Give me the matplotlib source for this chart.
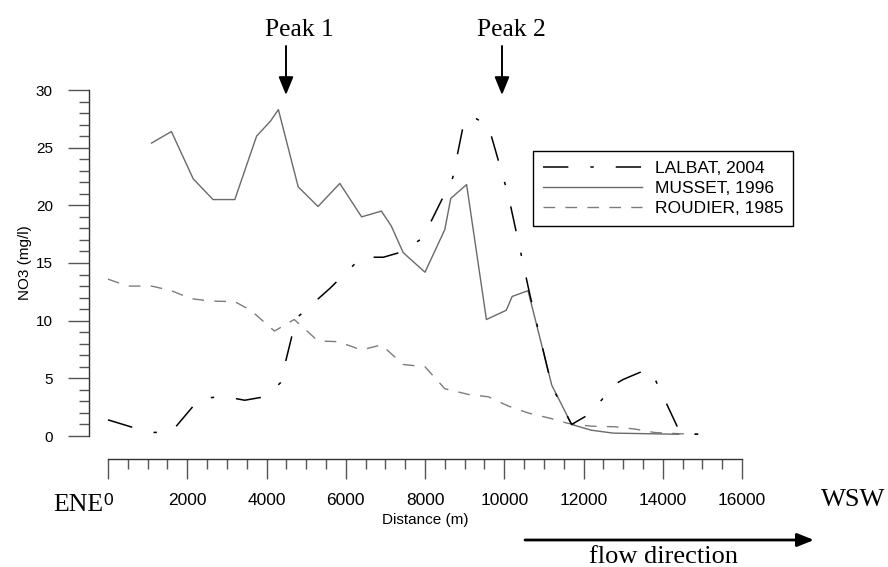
import matplotlib.pyplot as plt
from matplotlib.ticker import MultipleLocator

plt.rcParams['font.family'] = ['Liberation Sans', 'DejaVu Sans']

# NO3 profiles along the flow path
lalbat_x = [0, 1050, 1600, 2300, 2900, 3450, 3950, 4350, 4750, 5600, 6400, 6950, 7450,
            7950, 8700, 9000, 9300, 9600, 10100, 10650, 11200, 11700, 12200, 12750,
            13000, 13550, 13700, 14450, 14950, 15000, 15100]
lalbat_y = [1.4, 0.3, 0.35, 3.2, 3.45, 3.1, 3.4, 4.6, 10.2, 12.8, 15.5, 15.5, 16.0,
            17.2, 22.4, 27.5, 27.5, 26.9, 20.9, 12.2, 4.3, 1.0, 2.0, 4.4,
            4.9, 5.7, 5.7, 0.2, 0.15, 0.0, 0.0]

musset_x = [1100, 1600, 2150, 2650, 3200, 3750, 4100, 4300, 4800, 5300, 5850, 6400,
            6900, 7150, 7450, 8000, 8500, 8650, 9050, 9550, 10050, 10200, 10600,
            11200, 11700, 12200, 12750, 14400]
musset_y = [25.4, 26.4, 22.3, 20.5, 20.5, 26.0, 27.3, 28.3, 21.6, 19.9, 21.9, 19.0,
            19.5, 18.2, 15.9, 14.2, 17.9, 20.6, 21.8, 10.1, 10.9, 12.1, 12.6,
            4.4, 1.0, 0.5, 0.25, 0.15]

roudier_x = [0, 500, 1100, 1600, 2100, 2600, 3200, 3600, 4200, 4700, 5300, 5800, 6400,
             6900, 7450, 8000, 8500, 9100, 9600, 10100, 10600, 11200, 11600, 12200,
             12800, 13300, 13800, 14400, 14900]
roudier_y = [13.6, 13.0, 13.0, 12.6, 11.9, 11.7, 11.65, 10.9, 9.1, 10.1, 8.24, 8.18,
             7.46, 7.9, 6.2, 6.0, 4.1, 3.6, 3.4, 2.6, 2.0, 1.5, 1.1, 0.85,
             0.8, 0.6, 0.3, 0.2, 0.15]

W, H = 888, 567


def fp(x, y):
    # pixel position (from top-left) -> figure fraction
    return x / W, 1 - y / H


fig = plt.figure(figsize=(8.88, 5.67), dpi=100)
ax = fig.add_axes([108 / W, 1 - 436 / H, 634 / W, 346 / H])

ax.plot(roudier_x, roudier_y, color='#7c7c7c', lw=1.0, dashes=(8.4, 7.4),
        label='ROUDIER, 1985', clip_on=False)
ax.plot(musset_x, musset_y, color='#6a6a6a', lw=1.0, label='MUSSET, 1996', clip_on=False)
ax.plot(lalbat_x, lalbat_y, color='black', lw=1.1, dashes=(16.6, 14.4, 2.2, 14.4),
        label='LALBAT, 2004', clip_on=False)

ax.set_xlim(0, 16000)
ax.set_ylim(0, 30)

for s in ['top', 'right']:
    ax.spines[s].set_visible(False)
ax.spines['left'].set_position(('outward', 13.7))
ax.spines['bottom'].set_position(('outward', 16.6))
for s in ['left', 'bottom']:
    ax.spines[s].set_color('#333333')
    ax.spines[s].set_linewidth(1.0)

ax.xaxis.set_major_locator(MultipleLocator(2000))
ax.xaxis.set_minor_locator(MultipleLocator(500))
ax.yaxis.set_major_locator(MultipleLocator(5))
ax.yaxis.set_minor_locator(MultipleLocator(1))

ax.tick_params(axis='y', which='major', direction='out', length=15, width=1.0,
               color='#555555', labelsize=11, pad=11)
ax.tick_params(axis='y', which='minor', direction='out', length=7.2, width=1.0,
               color='#555555')
ax.tick_params(axis='x', which='major', direction='out', length=14.4, width=1.0,
               color='#555555', labelsize=12.5, pad=10)
ax.tick_params(axis='x', which='minor', direction='out', length=7, width=1.0,
               color='#555555')

ax.set_ylabel('NO3 (mg/l)', fontsize=11)
ax.yaxis.set_label_coords(-0.12, 0.5)
ax.set_xlabel('Distance (m)', fontsize=11)
ax.xaxis.set_label_coords(0.5, -0.222)

leg = ax.legend(handles=ax.lines[::-1], loc='upper left',
                bbox_to_anchor=fp(533, 151), bbox_transform=fig.transFigure,
                borderaxespad=0, fontsize=12.5, handlelength=5.7, handletextpad=0.75,
                labelspacing=0.3, borderpad=0.55, fancybox=False, framealpha=1)
leg.get_frame().set_edgecolor('black')
leg.get_frame().set_linewidth(1.0)

serif = ['Liberation Serif', 'DejaVu Serif']
fig.text(*fp(78, 505), 'ENE', family=serif, fontsize=18.5, ha='center', va='center')
fig.text(*fp(853, 500), 'WSW', family=serif, fontsize=19, ha='center', va='center')
fig.text(*fp(299, 30), 'Peak 1', family=serif, fontsize=18.4, ha='center', va='center')
fig.text(*fp(511, 30), 'Peak 2', family=serif, fontsize=18.4, ha='center', va='center')
fig.text(*fp(663, 557), 'flow direction', family=serif, fontsize=19,
         ha='center', va='center')

arrow = dict(arrowstyle='-|>,head_length=1.1,head_width=0.45', color='black', lw=1.4,
             shrinkA=0, shrinkB=0)
for x in [286, 502]:
    ax.annotate('', xy=fp(x, 95), xytext=fp(x, 46), xycoords='figure fraction',
                textcoords='figure fraction', arrowprops=arrow)
ax.annotate('', xy=fp(814, 540), xytext=fp(525, 540), xycoords='figure fraction',
            textcoords='figure fraction',
            arrowprops=dict(arrowstyle='-|>,head_length=1.0,head_width=0.4',
                            color='black', lw=2.0, shrinkA=0, shrinkB=0))

fig.savefig('out.png', dpi=100)
